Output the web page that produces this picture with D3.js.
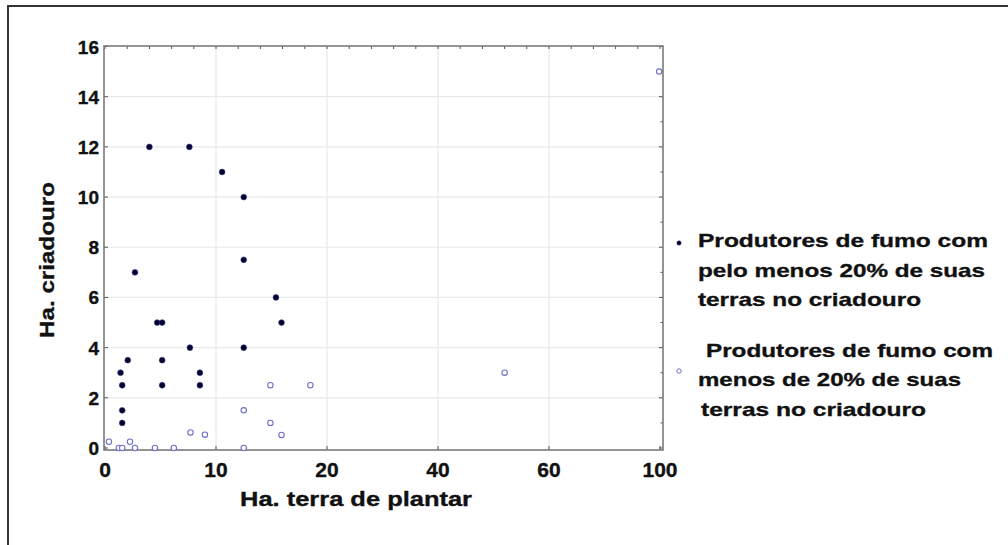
<!DOCTYPE html>
<html><head><meta charset="utf-8">
<script src="https://cdn.jsdelivr.net/npm/d3@7"></script>
<style>
html,body{margin:0;padding:0;background:#fff;}
svg{display:block;}
text{font-family:"Liberation Sans",Arial,sans-serif;font-weight:bold;fill:#111;stroke:#111;stroke-width:0.35px;}
</style></head>
<body>
<svg id="chart" width="1008" height="545"></svg>
<script>
// ---- data ----
const xTicks = [0, 10, 20, 40, 60, 100];
const yTicks = [0, 2, 4, 6, 8, 10, 12, 14, 16];
const filledX = [2.7, 4.0, 7.6, 10.55, 12.5, 12.5, 15.4, 15.9, 4.7, 5.15, 7.65, 12.5, 2.05, 5.15, 1.4, 8.55, 1.55, 5.15, 8.55, 1.55, 1.55];
const filledY = [7, 12, 12, 11, 10, 7.5, 6, 5, 5, 5, 4, 4, 3.5, 3.5, 3, 3, 2.5, 2.5, 2.5, 1.5, 1];
const hollowX = [0.35, 1.25, 1.55, 2.25, 2.7, 4.5, 6.2, 7.7, 9.0, 12.5, 12.5, 14.9, 14.9, 15.9, 18.5, 52, 99.7];
const hollowY = [0.25, 0, 0, 0.25, 0, 0, 0, 0.62, 0.53, 1.5, 0, 2.5, 1.0, 0.52, 2.5, 3.0, 15];
const legendFilled = ["Produtores de fumo com", "pelo menos 20% de suas", "terras no criadouro"];
const legendHollow = ["Produtores de fumo com", "menos de 20% de suas", "terras no criadouro"];
const xTitle = "Ha. terra de plantar";
const yTitle = "Ha. criadouro";

const svg = d3.select("#chart");

// outer border (cut off at right/bottom)
svg.append("path").attr("d","M8,545 V6 H1008").attr("fill","none").attr("stroke","#333").attr("stroke-width",2);

const L = 105, R = 660, T = 46.5, B = 448;
const x = d3.scaleLinear().domain(xTicks).range(xTicks.map((d,i)=> L + i*(R-L)/(xTicks.length-1)));
const y = d3.scaleLinear().domain([0,16]).range([B, T]);

const frameL = 104, frameR = 663, frameT = 46, frameB = 450;

// grid
const g = svg.append("g");
g.selectAll(".vg").data(xTicks.slice(1,-1)).enter().append("line")
  .attr("x1",d=>x(d)).attr("x2",d=>x(d)).attr("y1",frameT).attr("y2",frameB)
  .attr("stroke","#e6eaea").attr("stroke-width",1.2);
g.selectAll(".hg").data(yTicks.slice(1,-1)).enter().append("line")
  .attr("y1",d=>y(d)).attr("y2",d=>y(d)).attr("x1",frameL).attr("x2",frameR)
  .attr("stroke","#e6eaea").attr("stroke-width",1.2);

// minor ticks positions on x (5 subdivisions per interval)
const xMinor = [];
for (let i=0;i<xTicks.length-1;i++){ for(let k=1;k<5;k++){ xMinor.push(xTicks[i]+k*(xTicks[i+1]-xTicks[i])/5); } }
const yMinor = d3.range(1,16,2);

const tk = svg.append("g").attr("stroke","#555").attr("stroke-width",1);
tk.selectAll(".tt").data(xTicks.concat(xMinor)).enter().append("line")
  .attr("x1",d=>x(d)).attr("x2",d=>x(d)).attr("y1",frameT).attr("y2",frameT+3);
tk.selectAll(".bt").data(xTicks).enter().append("line")
  .attr("x1",d=>x(d)).attr("x2",d=>x(d)).attr("y1",frameB).attr("y2",frameB-4);
tk.selectAll(".lt").data(yTicks).enter().append("line")
  .attr("y1",d=>y(d)).attr("y2",d=>y(d)).attr("x1",frameL).attr("x2",frameL+4);
tk.selectAll(".rt").data(yTicks).enter().append("line")
  .attr("y1",d=>y(d)).attr("y2",d=>y(d)).attr("x1",frameR).attr("x2",frameR-4);
tk.selectAll(".rtm").data(yMinor).enter().append("line")
  .attr("y1",d=>y(d)).attr("y2",d=>y(d)).attr("x1",frameR).attr("x2",frameR-2.5);

// frame
svg.append("rect").attr("x",frameL).attr("y",frameT).attr("width",frameR-frameL).attr("height",frameB-frameT)
  .attr("fill","none").attr("stroke","#7a7a7a").attr("stroke-width",1.6);

// tick labels
svg.selectAll(".yl").data(yTicks).enter().append("text")
  .attr("x",99).attr("y",d=>y(d)+7).attr("text-anchor","end").attr("font-size",19)
  .text(d=>d);
svg.selectAll(".xl").data(xTicks).enter().append("text")
  .attr("x",d=>x(d)).attr("y",477).attr("text-anchor","middle").attr("font-size",21)
  .text(d=>d);

// axis titles
svg.append("text").attr("x",356).attr("y",506).attr("text-anchor","middle").attr("font-size",21)
  .attr("textLength",232).attr("lengthAdjust","spacingAndGlyphs").text(xTitle);
svg.append("text").attr("transform","translate(54,260) rotate(-90)").attr("text-anchor","middle").attr("font-size",21)
  .attr("textLength",156).attr("lengthAdjust","spacingAndGlyphs").text(yTitle);

// points
const filled = filledX.map((d,i)=>({x:d,y:filledY[i]}));
const hollow = hollowX.map((d,i)=>({x:d,y:hollowY[i]}));
svg.append("g").selectAll("circle").data(hollow).enter().append("circle")
  .attr("cx",d=>x(d.x)).attr("cy",d=>y(d.y)).attr("r",2.7)
  .attr("fill","#fff").attr("stroke","#6f6fc8").attr("stroke-width",1.1);
svg.append("g").selectAll("circle").data(filled).enter().append("circle")
  .attr("cx",d=>x(d.x)).attr("cy",d=>y(d.y)).attr("r",2.9)
  .attr("fill","#03032e").attr("stroke","#3a3a8a").attr("stroke-width",0.6);

// legend
svg.append("circle").attr("cx",679).attr("cy",243).attr("r",2.2).attr("fill","#03032e").attr("stroke","#3a3a8a").attr("stroke-width",0.5);
svg.append("circle").attr("cx",679).attr("cy",371).attr("r",2.2).attr("fill","#fff").attr("stroke","#6f6fc8").attr("stroke-width",1);
const lf = [{x:698,y:247,w:290},{x:698,y:277,w:287},{x:698,y:306,w:223}];
const lh = [{x:706,y:357,w:287},{x:698,y:386,w:263},{x:701,y:416,w:225}];
svg.selectAll(".lf").data(legendFilled).enter().append("text")
  .attr("x",(d,i)=>lf[i].x).attr("y",(d,i)=>lf[i].y).attr("font-size",19)
  .attr("textLength",(d,i)=>lf[i].w).attr("lengthAdjust","spacingAndGlyphs").text(d=>d);
svg.selectAll(".lh").data(legendHollow).enter().append("text")
  .attr("x",(d,i)=>lh[i].x).attr("y",(d,i)=>lh[i].y).attr("font-size",19)
  .attr("textLength",(d,i)=>lh[i].w).attr("lengthAdjust","spacingAndGlyphs").text(d=>d);
</script>
</body></html>
